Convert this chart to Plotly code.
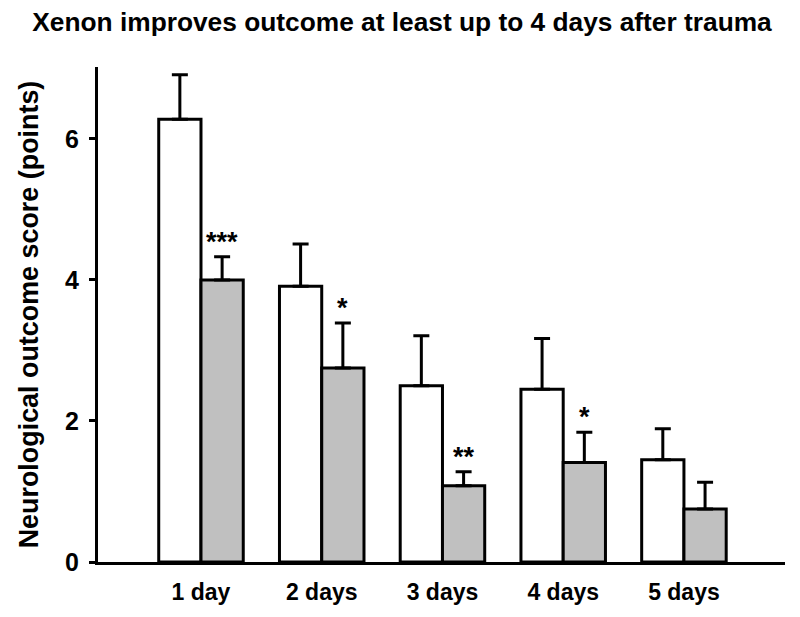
import plotly.graph_objects as go

categories = ["1 day", "2 days", "3 days", "4 days", "5 days"]
control_vals = [6.28, 3.91, 2.50, 2.45, 1.45]
control_err = [0.63, 0.60, 0.71, 0.72, 0.44]
xenon_vals = [4.00, 2.75, 1.08, 1.41, 0.75]
xenon_err = [0.33, 0.64, 0.20, 0.43, 0.38]
stars = ["***", "*", "**", "*", ""]

FONT = "Arial, Liberation Sans, sans-serif"
bw = 0.35
xi = list(range(len(categories)))

fig = go.Figure()
fig.add_trace(go.Bar(
    x=xi, y=control_vals, width=bw, offset=-bw,
    marker=dict(color="white", line=dict(color="black", width=3)),
    error_y=dict(type="data", array=control_err, arrayminus=[0]*5, symmetric=False,
                 color="black", thickness=3, width=8),
    name="Control", showlegend=False,
))
fig.add_trace(go.Bar(
    x=xi, y=xenon_vals, width=bw, offset=0,
    marker=dict(color="#c0c0c0", line=dict(color="black", width=3)),
    error_y=dict(type="data", array=xenon_err, arrayminus=[0]*5, symmetric=False,
                 color="black", thickness=3, width=8),
    name="Xenon", showlegend=False,
))

for i, s in enumerate(stars):
    if s:
        fig.add_annotation(x=i + bw / 2, y=xenon_vals[i] + xenon_err[i], text="<b>%s</b>" % s,
                           showarrow=False, yanchor="bottom", yshift=-2,
                           font=dict(family=FONT, size=27, color="black"))

fig.update_layout(
    width=800, height=617,
    margin=dict(l=90, r=23, t=59, b=63),
    plot_bgcolor="white", paper_bgcolor="white",
    title=dict(text="<b>Xenon improves outcome at least up to 4 days after trauma</b>",
               x=0.4925, xanchor="center", y=0.977, yanchor="middle",
               font=dict(family=FONT, size=26.3, color="black")),
    xaxis=dict(range=[-0.853, 4.837], tickvals=xi,
               ticktext=["<b>%s</b>" % c for c in categories],
               showline=True, linecolor="black", linewidth=3, ticks="",
               showgrid=False, zeroline=False, ticklabelstandoff=7,
               tickfont=dict(family=FONT, size=23, color="black")),
    yaxis=dict(range=[0, 7.02], tickvals=[0, 2, 4, 6],
               ticktext=["<b>0</b>", "<b>2</b>", "<b>4</b>", "<b>6</b>"],
               showline=True, linecolor="black", linewidth=3,
               ticks="outside", ticklen=6, tickwidth=3, tickcolor="black",
               showgrid=False, zeroline=False, ticklabelstandoff=5,
               tickfont=dict(family=FONT, size=25, color="black"),
               title=dict(text="<b>Neurological outcome score (points)</b>",
                          font=dict(family=FONT, size=26.9, color="black"), standoff=19)),
)

fig.write_html("out.html")
